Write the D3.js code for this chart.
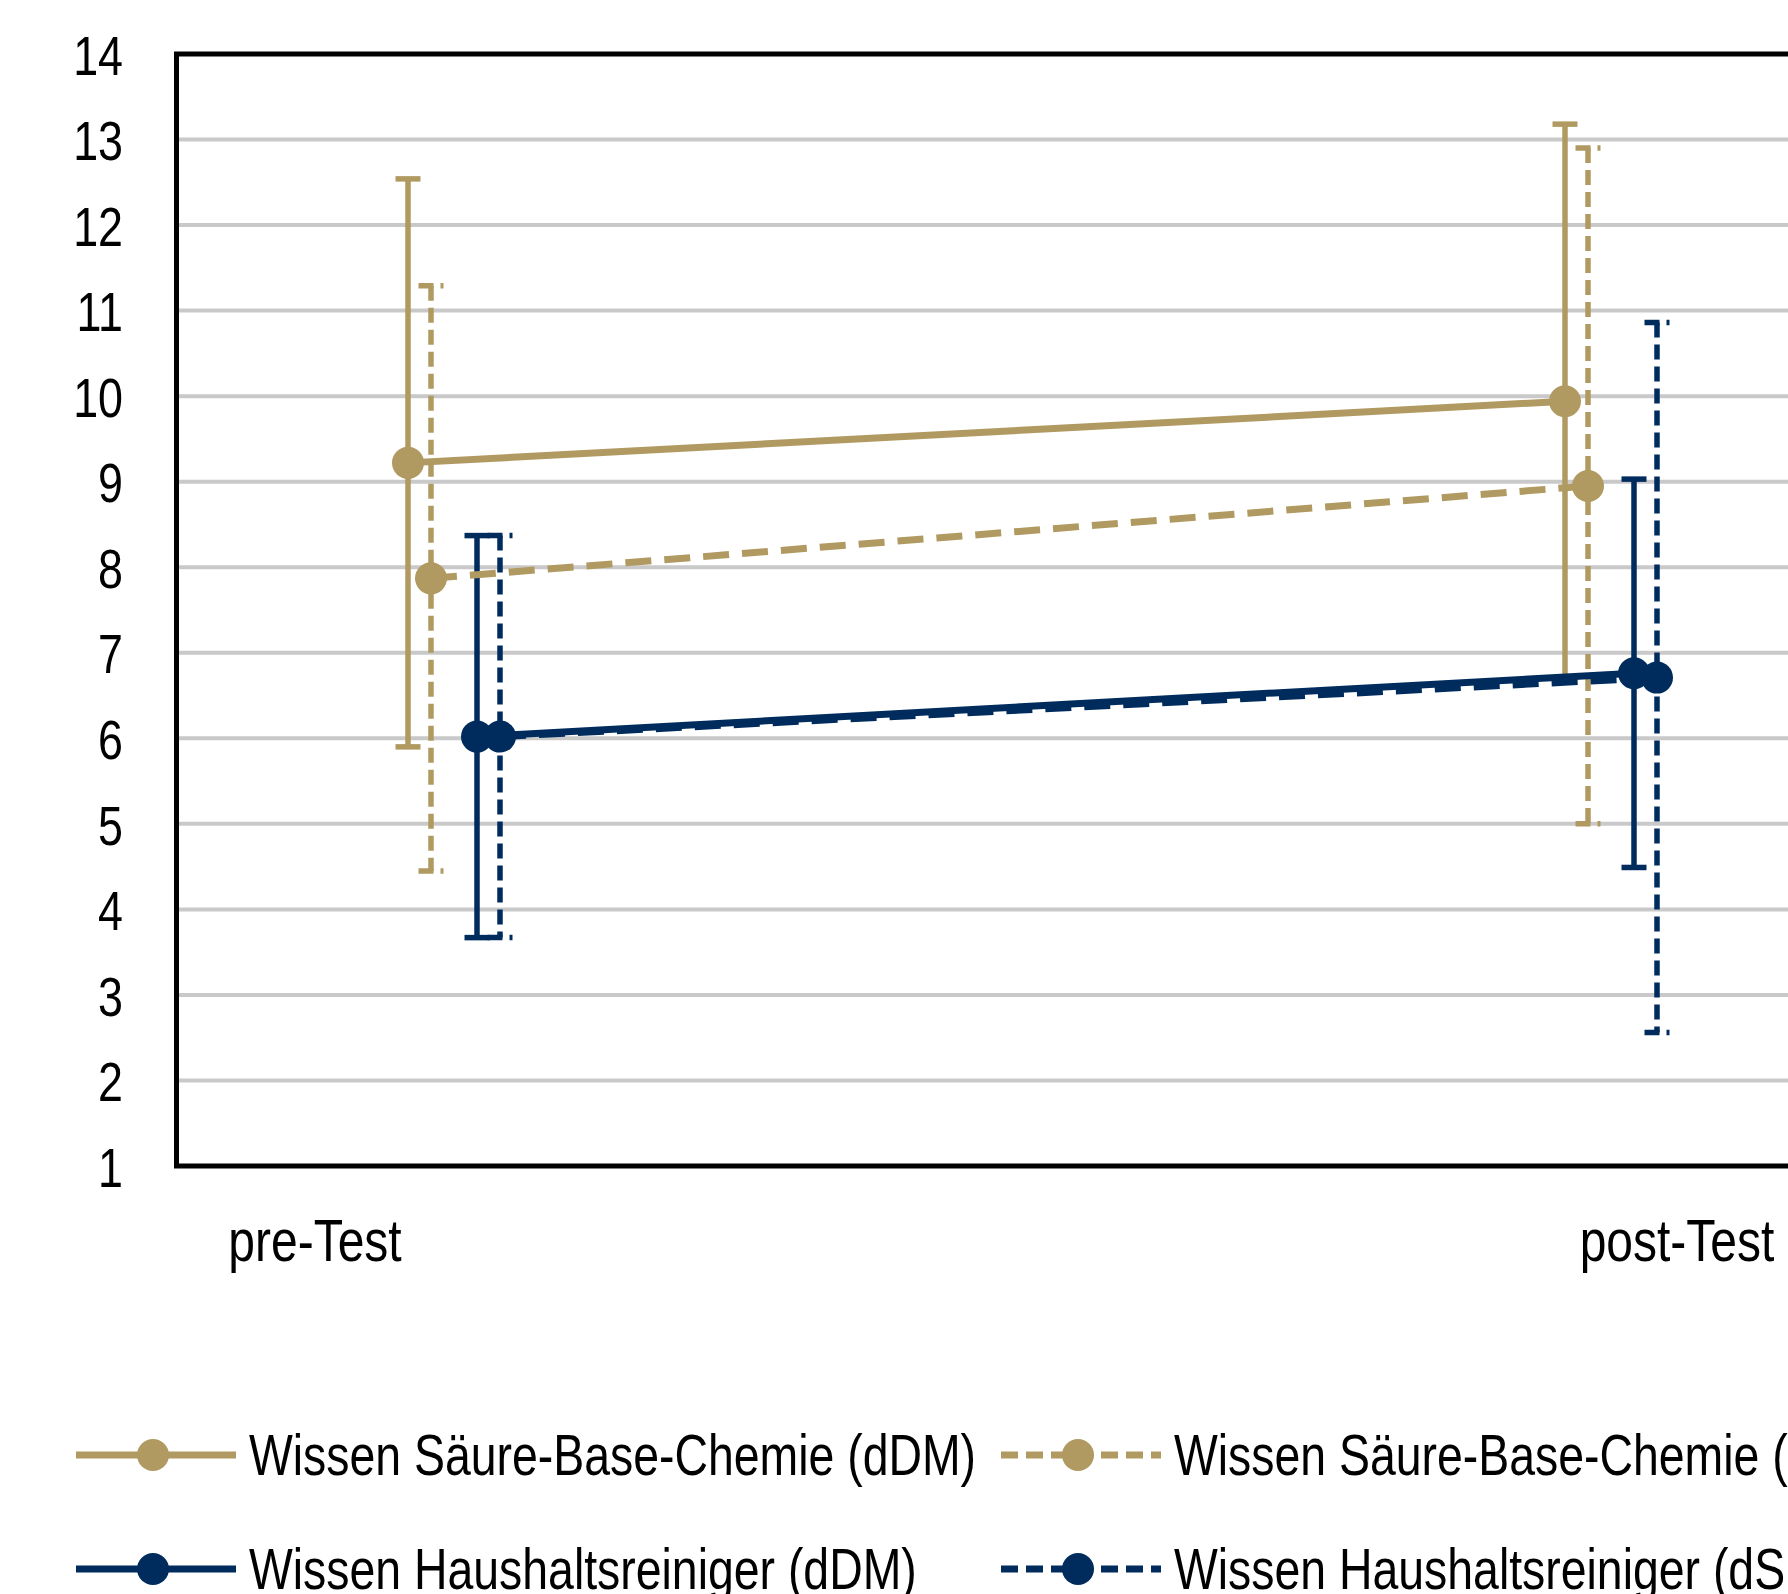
<!DOCTYPE html>
<html>
<head>
<meta charset="utf-8">
<script src="https://cdn.jsdelivr.net/npm/d3@7"></script>
<style>
  html, body { margin: 0; padding: 0; background: #fff; overflow: hidden; }
  svg { display: block; }
  text { font-family: "Liberation Sans", Arial, sans-serif; fill: #000; }
</style>
</head>
<body>
<svg id="chart" width="1788" height="1594"></svg>
<script>
// ---------------- data ----------------
const categories = ["pre-Test", "post-Test"];
const yTicks = [1, 2, 3, 4, 5, 6, 7, 8, 9, 10, 11, 12, 13, 14];

const seriesNames = [
  "Wissen Säure-Base-Chemie (dDM)",
  "Wissen Säure-Base-Chemie (dSM)",
  "Wissen Haushaltsreiniger (dDM)",
  "Wissen Haushaltsreiniger (dSM)"
];
// means per category (pre, post)
const meanSaeureDDM = [9.22, 9.94];
const meanSaeureDSM = [7.87, 8.95];
const meanHausDDM   = [6.02, 6.76];
const meanHausDSM   = [6.02, 6.71];
// standard deviations (error bars) per category (pre, post)
const sdSaeureDDM = [3.32, 3.24];
const sdSaeureDSM = [3.42, 3.95];
const sdHausDDM   = [2.35, 2.27];
const sdHausDSM   = [2.35, 4.15];

// ---------------- styles / layout ----------------
const GOLD = "#b09a61";
const NAVY = "#002c5d";
const styles = [
  { color: GOLD, dashed: false, offset: 0 },
  { color: GOLD, dashed: true,  offset: 23 },
  { color: NAVY, dashed: false, offset: 69 },
  { color: NAVY, dashed: true,  offset: 92 }
];
const means = [meanSaeureDDM, meanSaeureDSM, meanHausDDM, meanHausDSM];
const sds   = [sdSaeureDDM, sdSaeureDSM, sdHausDDM, sdHausDSM];
const series = seriesNames.map((name, i) => ({
  name, ...styles[i],
  points: categories.map((c, j) => ({ cat: c, idx: j, mean: means[i][j], sd: sds[i][j] }))
}));

const SX = 0.8; // narrow font emulation
const svg = d3.select("#chart");

const plotLeft = 176.5, plotRight = 2100, plotTop = 54, plotBottom = 1166;
const y = d3.scaleLinear().domain([1, 14]).range([plotBottom, plotTop]);
const xCat = d3.scaleLinear().domain([0, 1]).range([408, 1565]);
const xLabel = d3.scalePoint().domain(categories).range([315, 1677]);

// gridlines
svg.append("g").selectAll("line")
  .data(yTicks.filter(t => t > 1 && t < 14))
  .join("line")
  .attr("x1", plotLeft + 2.5).attr("x2", 1788)
  .attr("y1", d => y(d)).attr("y2", d => y(d))
  .attr("stroke", "#c9c9c9").attr("stroke-width", 4);

// y axis labels
const yAxis = d3.axisLeft(y).tickValues(yTicks).tickSize(0).tickPadding(0).tickFormat(d3.format("d"));
const yg = svg.append("g").attr("transform", `translate(123,0)`).call(yAxis);
yg.select(".domain").remove();
yg.selectAll(".tick text")
  .attr("font-size", 56)
  .attr("font-family", "Liberation Sans, Arial, sans-serif")
  .attr("fill", "#000")
  .attr("x", 0)
  .attr("dy", "0.36em")
  .attr("transform", `scale(${SX},1)`);

// x category labels
svg.append("g").selectAll("text")
  .data(categories)
  .join("text")
  .attr("transform", d => `translate(${xLabel(d)},1261) scale(${SX},1)`)
  .attr("text-anchor", "middle")
  .attr("font-size", 60)
  .text(d => d);

// error bars (all first)
const ebG = svg.append("g");
series.forEach(s => {
  s.points.forEach(p => {
    const cx = xCat(p.idx) + s.offset;
    const yt = y(p.mean + p.sd), yb = y(p.mean - p.sd);
    const dash = s.dashed ? "15,7" : null;
    const segs = [
      [cx - 12.5, yt, cx + 12.5, yt],
      [cx, yt, cx, yb],
      [cx - 12.5, yb, cx + 12.5, yb]
    ];
    segs.forEach(sg => {
      ebG.append("line")
        .attr("x1", sg[0]).attr("y1", sg[1]).attr("x2", sg[2]).attr("y2", sg[3])
        .attr("stroke", s.color).attr("stroke-width", 5.5)
        .attr("stroke-dasharray", dash);
    });
  });
});

// lines
const line = d3.line().x(p => p.x).y(p => p.y);
series.forEach(s => {
  const pts = s.points.map(p => ({ x: xCat(p.idx) + s.offset, y: y(p.mean) }));
  svg.append("path")
    .attr("d", line(pts))
    .attr("fill", "none")
    .attr("stroke", s.color).attr("stroke-width", 7)
    .attr("stroke-dasharray", s.dashed ? "26,13" : null);
});

// markers
series.forEach(s => {
  svg.append("g").selectAll("circle")
    .data(s.points)
    .join("circle")
    .attr("cx", p => xCat(p.idx) + s.offset)
    .attr("cy", p => y(p.mean))
    .attr("r", 16)
    .attr("fill", s.color);
});

// frame
svg.append("rect")
  .attr("x", plotLeft).attr("y", plotTop)
  .attr("width", plotRight - plotLeft).attr("height", plotBottom - plotTop)
  .attr("fill", "none").attr("stroke", "#000").attr("stroke-width", 5);

// legend
const legendPos = [
  { lx: 76, ty: 1455 },
  { lx: 1001, ty: 1455 },
  { lx: 76, ty: 1569 },
  { lx: 1001, ty: 1569 }
];
series.forEach((s, i) => {
  const lp = legendPos[i];
  const g = svg.append("g").attr("transform", `translate(${lp.lx},${lp.ty})`);
  g.append("line")
    .attr("x1", 0).attr("x2", 160).attr("y1", 0).attr("y2", 0)
    .attr("stroke", s.color).attr("stroke-width", 7)
    .attr("stroke-dasharray", s.dashed ? "17,8" : null);
  g.append("circle").attr("cx", 77).attr("cy", 0).attr("r", 16).attr("fill", s.color);
  g.append("text")
    .attr("transform", `translate(173,20) scale(${SX},1)`)
    .attr("font-size", 58)
    .text(s.name);
});
</script>
</body>
</html>
